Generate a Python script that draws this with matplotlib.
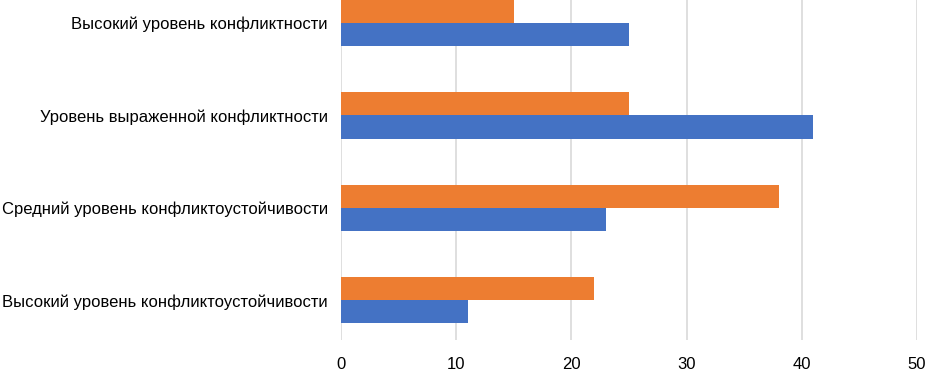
import matplotlib.pyplot as plt
import numpy as np

# данные графика
categories = [
    "Высокий уровень конфликтоустойчивости",
    "Средний уровень конфликтоустойчивости",
    "Уровень выраженной конфликтности",
    "Высокий уровень конфликтности",
]
blue_vals = [11, 23, 41, 25]
orange_vals = [22, 38, 25, 15]
x_ticks = [0, 10, 20, 30, 40, 50]

plt.rcParams['font.family'] = ['Liberation Sans', 'DejaVu Sans']

fig = plt.figure(figsize=(9.28, 3.72), dpi=100)
ax = fig.add_axes([341 / 928, 32 / 372, (917 - 341) / 928, 340 / 372])

y = np.arange(len(categories))
h = 0.25
ax.barh(y - h / 2, blue_vals, height=h, color='#4472C4', zorder=3)
ax.barh(y + h / 2, orange_vals, height=h, color='#ED7D31', zorder=3)

ax.set_xlim(0, 50)
ax.set_ylim(-0.43, 3.25)
ax.set_xticks(x_ticks)
ax.set_yticks(y)
ax.set_yticklabels(categories)
ax.tick_params(axis='both', length=0, labelsize=12, colors='black')
ax.tick_params(axis='y', pad=9.5)
ax.tick_params(axis='x', pad=12)
ax.grid(axis='x', color='#D9D9D9', linewidth=1.2, zorder=0)
for s in ax.spines.values():
    s.set_visible(False)

fig.savefig("out.png", dpi=100)
